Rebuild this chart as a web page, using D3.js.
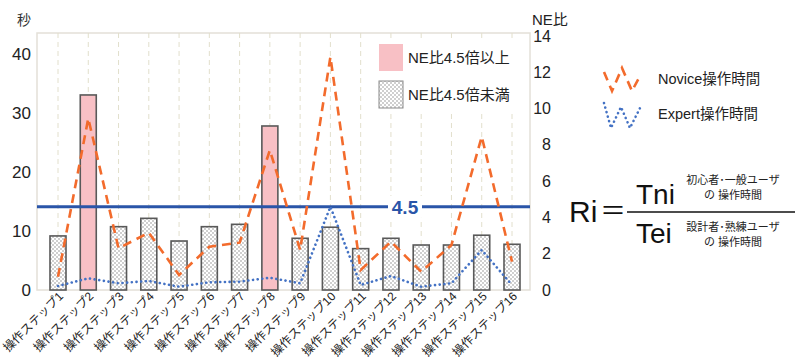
<!DOCTYPE html>
<html><head><meta charset="utf-8">
<script src="https://cdn.jsdelivr.net/npm/d3@7"></script>
<style>
body{margin:0;background:#fff;}
text{font-family:Arial,"Liberation Sans","Noto Sans CJK JP",sans-serif;}
</style></head>
<body><svg id="c" width="795" height="360"></svg>
<script>
const categories = ["操作ステップ1","操作ステップ2","操作ステップ3","操作ステップ4","操作ステップ5","操作ステップ6","操作ステップ7","操作ステップ8","操作ステップ9","操作ステップ10","操作ステップ11","操作ステップ12","操作ステップ13","操作ステップ14","操作ステップ15","操作ステップ16"];
const neRatio = [2.98,10.75,3.49,3.95,2.70,3.49,3.62,9.04,2.85,3.46,2.28,2.85,2.48,2.48,3.02,2.52];
const noviceTime = [2.25,29.1,7.07,9.71,2.54,7.34,8.02,23.7,6.78,39.5,3.39,8.19,3.10,7.63,26.0,4.80];
const expertTime = [0.68,1.98,1.14,1.53,0.56,1.31,1.41,2.08,1.14,14.1,0.85,2.37,0.56,1.14,6.78,0.85];
const threshold = 4.5;
const leftTicks = [0,10,20,30,40];
const rightTicks = [0,2,4,6,8,10,12,14];
const legendBars = ["NE比4.5倍以上","NE比4.5倍未満"];
const legendLines = ["Novice操作時間","Expert操作時間"];

const svg = d3.select("#c");
const X0=37, X1=530, Y0=33, Y1=290;
const x = d3.scalePoint().domain(categories).range([58,512]);
const yL = d3.scaleLinear().domain([0,40]).range([290,54]);
const yR = d3.scaleLinear().domain([0,14]).range([290,36]);

const defs = svg.append("defs");
const pat = defs.append("pattern").attr("id","chk").attr("width",4).attr("height",4).attr("patternUnits","userSpaceOnUse");
pat.append("rect").attr("width",4).attr("height",4).attr("fill","#fff");
pat.append("rect").attr("width",2).attr("height",2).attr("fill","#cfcfcf");
pat.append("rect").attr("x",2).attr("y",2).attr("width",2).attr("height",2).attr("fill","#cfcfcf");

// plot frame
svg.append("rect").attr("x",X0).attr("y",Y0).attr("width",X1-X0).attr("height",Y1-Y0)
  .attr("fill","none").attr("stroke","#e3e0d8").attr("stroke-width",1.5);

// vertical dashed gridlines
svg.append("g").selectAll("line").data(categories).join("line")
  .attr("x1",d=>x(d)).attr("x2",d=>x(d)).attr("y1",Y0).attr("y2",Y1)
  .attr("stroke","#e2dfcc").attr("stroke-width",1).attr("stroke-dasharray","5 4");

// left axis
const gL = svg.append("g").attr("transform",`translate(${X0},0)`)
  .call(d3.axisLeft(yL).tickValues(leftTicks).tickSize(0).tickPadding(6));
gL.select(".domain").remove();
gL.selectAll("text").attr("font-size",17).attr("fill","#222");
// right axis
const gR = svg.append("g").attr("transform",`translate(551,0)`)
  .call(d3.axisLeft(yR).tickValues(rightTicks).tickSize(0).tickPadding(0));
gR.select(".domain").remove();
gR.selectAll("text").attr("font-size",16).attr("fill","#222");

svg.append("text").attr("x",17).attr("y",25).attr("font-size",14).attr("fill","#333").text("秒");
svg.append("text").attr("x",532).attr("y",25).attr("font-size",15).attr("fill","#222").text("NE比");

// bars
const bw = 16;
svg.append("g").selectAll("rect").data(categories).join("rect")
  .attr("x",d=>x(d)-bw/2).attr("width",bw)
  .attr("y",(d,i)=>yR(neRatio[i])).attr("height",(d,i)=>yR(0)-yR(neRatio[i]))
  .attr("fill",(d,i)=>neRatio[i]>=threshold?"#f8c0c5":"url(#chk)")
  .attr("stroke","#595959").attr("stroke-width",1.6);

// threshold line
svg.append("line").attr("x1",X0).attr("x2",X1).attr("y1",yR(threshold)-1.5).attr("y2",yR(threshold)-1.5)
  .attr("stroke","#2a55a8").attr("stroke-width",3);

// lines
const lineL = d3.line().x((d,i)=>x(categories[i])).y(d=>yL(d));
svg.append("path").datum(noviceTime).attr("d",lineL).attr("fill","none")
  .attr("stroke","#f36b2c").attr("stroke-width",2.6).attr("stroke-dasharray","9 6");
svg.append("path").datum(expertTime).attr("d",lineL).attr("fill","none")
  .attr("stroke","#4472c4").attr("stroke-width",2.6).attr("stroke-linecap","round").attr("stroke-dasharray","0.1 4.6");

// threshold label
const lblX = 405, lblY = yR(threshold)-1.5;
svg.append("rect").attr("x",lblX-17).attr("y",lblY-11).attr("width",34).attr("height",22).attr("fill","#fff");
svg.append("text").attr("x",lblX).attr("y",lblY).attr("dy","0.36em").attr("text-anchor","middle")
  .attr("font-size",19).attr("font-weight","bold").attr("fill","#2a55a8").text(String(threshold));

// x labels
svg.append("g").selectAll("text").data(categories).join("text")
  .attr("transform",d=>`translate(${x(d)+3},${294}) rotate(-45)`)
  .attr("text-anchor","end").attr("dy","0.35em").attr("font-size",12).attr("fill","#222").text(d=>d);

// bar legend
svg.append("rect").attr("x",374).attr("y",40).attr("width",152).attr("height",72).attr("fill","#fff");
legendBars.forEach((t,i)=>{
  const yy = 44 + i*37;
  svg.append("rect").attr("x",379).attr("y",yy).attr("width",24).attr("height",27)
    .attr("fill",i===0?"#f8c0c5":"url(#chk)").attr("stroke",i===0?"none":"#8a8a8a").attr("stroke-width",1);
  svg.append("text").attr("x",408).attr("y",yy+14).attr("dy","0.35em").attr("font-size",15).attr("fill","#222").text(t);
});

// line legend
const iconN = [[604,72],[612,91],[622,68],[632,91],[641,74]];
const iconE = [[604,103],[611,128],[621,107],[630,128],[641,106]];
const lineP = d3.line();
svg.append("path").attr("d",lineP(iconN)).attr("fill","none").attr("stroke","#f36b2c").attr("stroke-width",2.6).attr("stroke-dasharray","9 6");
svg.append("path").attr("d",lineP(iconE)).attr("fill","none").attr("stroke","#4472c4").attr("stroke-width",2.6).attr("stroke-linecap","round").attr("stroke-dasharray","0.1 4.6");
svg.append("text").attr("x",658).attr("y",79).attr("dy","0.35em").attr("font-size",14.5).attr("fill","#222").text(legendLines[0]);
svg.append("text").attr("x",658).attr("y",114).attr("dy","0.35em").attr("font-size",14.5).attr("fill","#222").text(legendLines[1]);

// formula
const f = svg.append("g");
f.append("text").attr("x",569).attr("y",222).attr("font-size",30).attr("fill","#111").text("Ri");
f.append("text").attr("x",600).attr("y",220).attr("font-size",26).attr("fill","#111").text("＝");
f.append("line").attr("x1",627).attr("x2",795).attr("y1",212).attr("y2",212).attr("stroke","#111").attr("stroke-width",1.5);
f.append("text").attr("x",636).attr("y",204).attr("font-size",28).attr("fill","#111").text("Tni");
f.append("text").attr("x",636).attr("y",243).attr("font-size",28).attr("fill","#111").text("Tei");
f.append("text").attr("x",733).attr("y",184).attr("text-anchor","middle").attr("font-size",11).attr("fill","#222").text("初心者･一般ユーザ");
f.append("text").attr("x",733).attr("y",199).attr("text-anchor","middle").attr("font-size",11).attr("fill","#222").text("の 操作時間");
f.append("text").attr("x",733).attr("y",231).attr("text-anchor","middle").attr("font-size",11).attr("fill","#222").text("設計者･熟練ユーザ");
f.append("text").attr("x",733).attr("y",246).attr("text-anchor","middle").attr("font-size",11).attr("fill","#222").text("の 操作時間");
</script></body></html>
